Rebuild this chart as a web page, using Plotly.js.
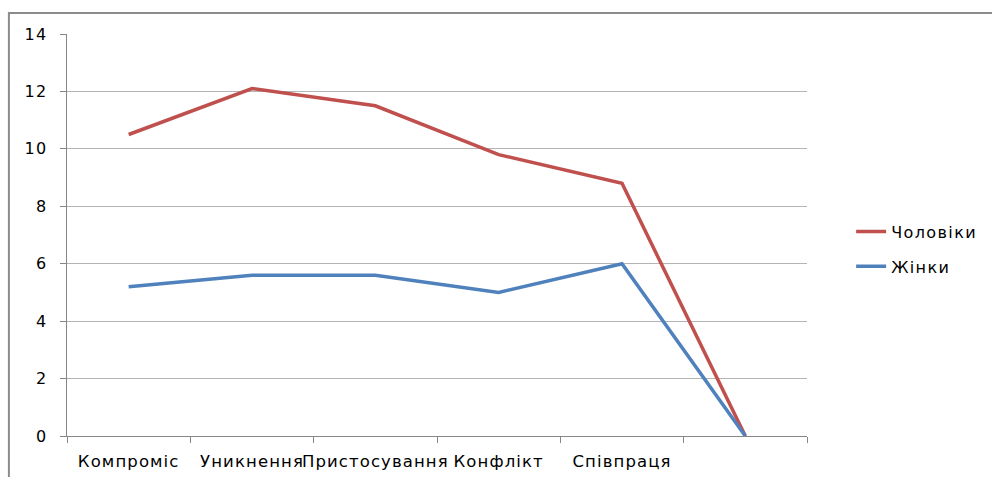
<!DOCTYPE html>
<html>
<head>
<meta charset="utf-8">
<script src="https://cdn.plot.ly/plotly-3.0.1.min.js"></script>
<style>
  html, body { margin: 0; padding: 0; background: #fff; }
  #chart { width: 992px; height: 477px; }
  .xtick text { letter-spacing: 1.1px; }
  .ytick text { letter-spacing: 1.5px; }
  .legendtext { letter-spacing: 1.4px; }
</style>
</head>
<body>
<div id="chart"></div>
<script>
// Conflict-handling styles by gender
const categories = ['Компроміс', 'Уникнення', 'Пристосування', 'Конфлікт', 'Співпраця', ''];
const men = [10.5, 12.1, 11.5, 9.8, 8.8, 0];
const women = [5.2, 5.6, 5.6, 5.0, 6.0, 0];
const seriesNames = ['Чоловіки', 'Жінки'];
const yTicks = [0, 2, 4, 6, 8, 10, 12, 14];

const xIdx = categories.map((_, i) => i);
const boundaries = categories.map((_, i) => i - 0.5).concat([categories.length - 0.5]);
const FONT = 'DejaVu Sans, Verdana, sans-serif';

const traces = [
  {
    x: xIdx, y: men, name: seriesNames[0], type: 'scatter', mode: 'lines',
    line: { color: '#C0504D', width: 3.5 }, legendgroup: 'a'
  },
  {
    x: xIdx, y: women, name: seriesNames[1], type: 'scatter', mode: 'lines',
    line: { color: '#4F81BD', width: 3.5 }, legendgroup: 'b'
  }
];

const axisGray = '#868686';

const layout = {
  width: 992, height: 477,
  margin: { l: 67, r: 185, t: 34, b: 40.5, pad: 0, autoexpand: false },
  paper_bgcolor: '#fff', plot_bgcolor: '#fff',
  font: { family: FONT, color: '#000' },
  showlegend: true,
  legend: {
    xref: 'container', x: 0.858, y: 0.465, xanchor: 'left', yanchor: 'middle',
    font: { family: FONT, size: 16, color: '#000' },
    tracegroupgap: 11, bgcolor: 'rgba(0,0,0,0)'
  },
  xaxis: {
    range: [-0.5, categories.length - 0.5],
    tickmode: 'array', tickvals: xIdx, ticktext: categories,
    ticks: '', showgrid: false, zeroline: false,
    showline: true, linecolor: axisGray, linewidth: 1,
    tickfont: { family: FONT, size: 16.5, color: '#000' },
    ticklabelstandoff: 10,
    minor: { tickmode: 'array', tickvals: boundaries, ticks: 'outside', ticklen: 6, tickcolor: axisGray, tickwidth: 1, showgrid: false },
    fixedrange: true
  },
  yaxis: {
    range: [0, 14], tickmode: 'array', tickvals: yTicks,
    ticks: 'outside', ticklen: 6, tickcolor: axisGray,
    showline: true, linecolor: axisGray, linewidth: 1,
    showgrid: true, gridcolor: '#b4b4b4', gridwidth: 1,
    zeroline: false,
    tickfont: { family: FONT, size: 16, color: '#000' },
    ticklabelstandoff: 9,
    fixedrange: true
  },
  shapes: [
    {
      type: 'rect', xref: 'paper', yref: 'paper',
      x0: -0.0785, x1: 1.6, y0: -0.5, y1: 1.052,
      line: { color: '#8c8c8c', width: 2 }, fillcolor: 'rgba(0,0,0,0)', layer: 'below'
    }
  ]
};

Plotly.newPlot('chart', traces, layout, { displayModeBar: false, staticPlot: true });
</script>
</body>
</html>
